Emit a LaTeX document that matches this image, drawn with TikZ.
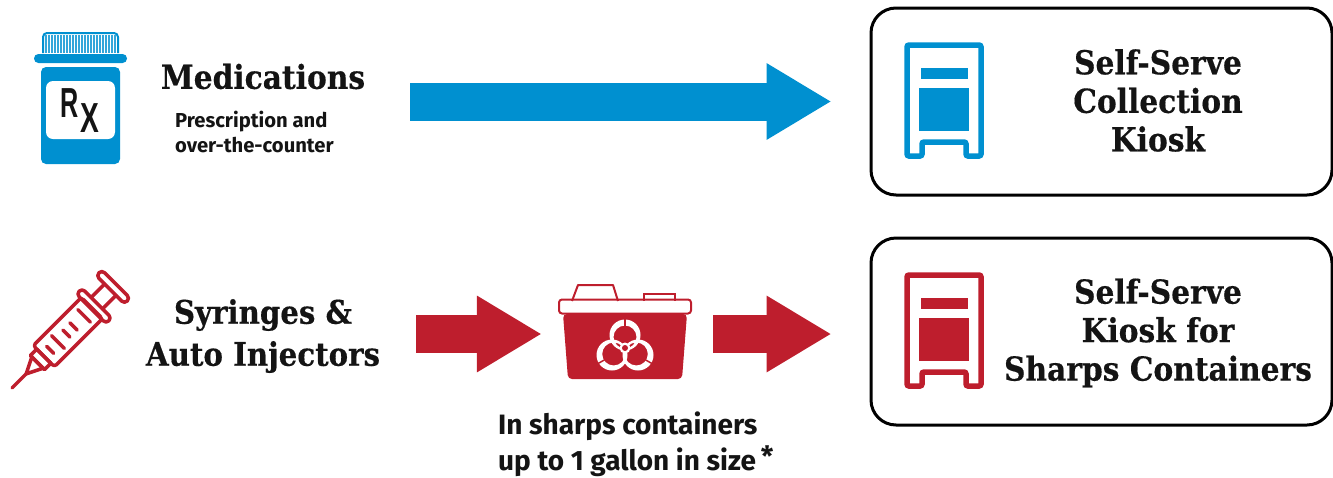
\documentclass[tikz,border=0pt]{standalone}
\usepackage{fontspec}
\setmainfont{Fira Sans}
\newfontfamily\slabfont[FakeStretch=0.9,FakeBold=0.4]{DejaVu Serif}
\newfontfamily\rxfont{Liberation Sans}
\usetikzlibrary{arrows.meta,positioning}
\definecolor{medblue}{RGB}{0,144,208}
\definecolor{sharpred}{RGB}{190,30,45}
\definecolor{inkblack}{RGB}{20,20,20}
\tikzset{
  heading/.style={font=\slabfont\bfseries\fontsize{33}{38.5}\selectfont,text=inkblack,align=center,inner sep=0pt},
  note/.style={font=\bfseries\fontsize{20.2}{25}\selectfont,text=inkblack,align=left,inner sep=0pt},
  bignote/.style={font=\bfseries\fontsize{28}{36}\selectfont,text=inkblack,align=left,inner sep=0pt},
  kioskbox/.style={draw=black,line width=3pt,rounded corners=25pt,minimum width=461pt,minimum height=187pt,inner sep=0pt},
  icon/.style={minimum width=#1,inner sep=0pt},
  blockarrow/.style={#1,line width=38pt,-{Triangle[length=65pt,width=72pt]}},
  pics/kiosk/.style={code={
    \draw[#1,line width=5.5pt,rounded corners=2pt] (-37,-57) -- (37,-57) -- (37,54) -- (22,54)
      -- (22,40) -- (-22,40) -- (-22,54) -- (-37,54) -- cycle;
    \fill[#1] (-23,-34) rectangle (24,-23);
    \fill[#1] (-25,-14) rectangle (25,29);
  }}
}
\begin{document}
\begin{tikzpicture}[x=1pt,y=-1pt]
\useasboundingbox (0,0) rectangle (1333,477);
% kiosk boxes
\node[kioskbox] (boxA) at (1101.5,101.5) {};
\node[kioskbox] (boxB) at (1101.5,331.5) {};
\pic at (944,102) {kiosk=medblue};
\pic at (944,332) {kiosk=sharpred};
\node[heading] (kioskA) at (1158,100.5) {Self-Serve\\Collection\\Kiosk};
\node[heading] (kioskB) at (1158,333) {Self-Serve\\Kiosk for\\Sharps Containers};
% bottle
\draw[medblue,line width=2pt,rounded corners=4pt] (43,53) -- (43,33) -- (118,33) -- (118,53);
\foreach \x in {46,49,...,115} \draw[medblue!80,line width=2pt] (\x,35) -- (\x,53);
\fill[medblue,rounded corners=4.4pt] (34,54) rectangle (127,63);
\fill[medblue,rounded corners=5pt] (41,67) rectangle (120,164);
\fill[white,rounded corners=7pt] (46,81) rectangle (115,139);
\node[font=\rxfont\bfseries\fontsize{42}{42}\selectfont,text=inkblack,inner sep=0pt] (rxR) at (69.5,103) {\scalebox{.6}[1]{R}};
\node[font=\rxfont\bfseries\fontsize{42}{42}\selectfont,text=inkblack,inner sep=0pt] (rxX) at (89.5,118) {\scalebox{.67}[1]{X}};
% syringe
\begin{scope}[shift={(12,388)},rotate=45,draw=sharpred,line width=3.5pt,line cap=round,line join=round]
  \draw (0,0) -- (20,0);
  \draw (20,0) -- (36,-8) -- (36,8) -- cycle;
  \draw (36,-10) -- (45,-10) -- (45,10) -- (36,10) -- cycle;
  \draw[rounded corners=3pt] (45,-15) rectangle (113,15);
  \draw[rounded corners=4pt] (112,-21) rectangle (120,21);
  \draw (120,-8) -- (139,-8);
  \draw (120,8) -- (139,8);
  \draw[rounded corners=4pt] (139,-20) rectangle (147,20);
  \foreach \u/\w in {54/5,65/9,77/5,87/5,102/9} \draw (\u,-\w) -- (\u,\w);
\end{scope}
% sharps container
\draw[sharpred,line width=2pt,line join=round] (572,301) -- (578,285) -- (613,285) -- (618,301);
\draw[sharpred,line width=2pt] (644,301) -- (644,294) -- (675,294) -- (675,301);
\draw[sharpred,line width=2pt,rounded corners=3pt] (559,299.5) rectangle (691,313.5);
\fill[sharpred,rounded corners=4pt] (563,314) -- (687,314) -- (682,379) -- (568,379) -- cycle;
% biohazard mark
\foreach \cx/\cy/\ix/\iy in {625/335/625/337,612/355/613.7/354,638/355/636.3/354}
  \fill[white,even odd rule] (\cx,\cy) circle (15.5) (\ix,\iy) circle (11.5);
\fill[white] (625,348) circle (5.5);
\foreach \ang in {90,210,330}
  \draw[sharpred,line width=1.5pt] (625,348) ++(-\ang:10) -- ++(-\ang:21);
\fill[sharpred] (625,348) circle (3);
\node[icon=132pt,minimum height=94pt] (sharps) at (625,334) {};
% labels
\node[heading] (meds) at (263,76.5) {Medications};
\node[note,anchor=north west] (medsnote) at (175,110.5) {Prescription and\\over-the-counter};
\node[heading,font=\slabfont\bfseries\fontsize{32.5}{42}\selectfont] (syringes) at (263,336) {Syringes \&\\Auto Injectors};
\node[bignote,anchor=north west] (sharpsnote) at (498,412) {In sharps containers\\up to 1 gallon in size\raisebox{.3ex}{\,*}};
% arrows
\draw[blockarrow=medblue,shorten <=45pt,shorten >=38pt] (meds.east |- boxA.west) -- (boxA.west);
\draw[blockarrow=sharpred,shorten <=36pt,shorten >=17pt] (syringes.east |- sharps.west) -- (sharps.west);
\draw[blockarrow=sharpred,shorten <=22pt,shorten >=38pt] (sharps.east) -- (sharps.east -| boxB.west);
\end{tikzpicture}
\end{document}
